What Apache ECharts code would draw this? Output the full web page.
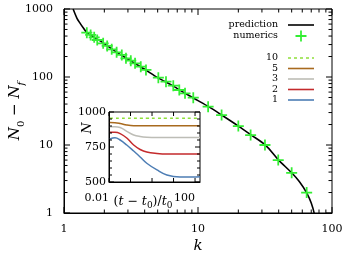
<!DOCTYPE html>
<html>
<head>
<meta charset="utf-8">
<title>N0 - Nf</title>
<script src="https://cdn.jsdelivr.net/npm/echarts@6/dist/echarts.min.js"></script>
<style>
  html, body { margin: 0; padding: 0; background: #fff; }
  #chart { width: 347px; height: 255px; }
</style>
</head>
<body>
<div id="chart"></div>
<script>
  // main panel: prediction curve and numerics
  var predK = [1.17, 1.25, 1.32, 1.4, 1.48, 1.7, 2, 2.5, 3, 4, 5, 6.5, 8, 10, 12, 15, 20, 25, 32, 40, 50, 57, 65, 70, 74, 78]
  var predN = [1000, 730, 615, 520, 450, 380, 310, 228, 183, 130, 98, 74, 57.6, 45, 36.6, 27.6, 19, 14, 9.9, 6.0, 3.9, 2.9, 1.95, 1.4, 0.95, 0.5]
  var numK = [1.48, 1.58, 1.68, 1.77, 1.96, 2.1, 2.27, 2.47, 2.7, 2.9, 3.15, 3.39, 3.74, 4.09, 5.06, 5.77, 6.54, 7.25, 8.0, 9.22, 11.9, 15.0, 20.0, 24.7, 31.6, 39.7, 50.0, 64.7]
  var numN = [448, 415, 384, 350, 313, 286, 255, 231, 211, 188, 174, 159, 142, 127, 97.7, 85.3, 74.5, 64.4, 57.6, 49.6, 36.6, 27.6, 19.0, 14.0, 10.0, 6.0, 3.9, 2.0]

  // inset: N against (t - t0)/t0 for the five cases
  var insetT = [0.011, 0.019, 0.033, 0.067, 0.14, 0.28, 0.57, 1.7, 4.9, 20, 80, 170]
  var insetN10 = [956, 956, 956, 956, 956, 956, 956, 956, 956, 956, 956, 956]
  var insetN5 = [925, 924, 918, 907, 902, 902, 902, 902, 902, 902, 902, 902]
  var insetN3 = [895, 895, 889, 862, 836, 825, 820, 818, 818, 818, 818, 818]
  var insetN2 = [855, 855, 846, 814, 764, 732, 714, 704, 700, 700, 700, 700]
  var insetN1 = [807, 816, 800, 764, 721, 679, 634, 586, 550, 536, 536, 538]
  var insetNames = ['10', '5', '3', '2', '1']
  var insetColors = ['#8ee03a', '#a86a1e', '#bdbdb6', '#c42a2c', '#4d7db4']

  // axis ranges and tick positions
  var kRange = [1, 100]
  var nRange = [1, 1000]
  var kMajor = [1, 10, 100]
  var nMajor = [1, 10, 100, 1000]
  var kMinor = [2, 3, 4, 5, 6, 7, 8, 9, 20, 30, 40, 50, 60, 70, 80, 90]
  var nMinor = [2, 3, 4, 5, 6, 7, 8, 9, 20, 30, 40, 50, 60, 70, 80, 90, 200, 300, 400, 500, 600, 700, 800, 900]
  var tRange = [0.01, 170]
  var tMajor = [0.01, 0.1, 1, 10, 100]
  var tLabels = [0.01, 100]
  var insetNRange = [500, 1000]
  var insetNMajor = [500, 750, 1000]
  var insetNMinor = [550, 600, 650, 700, 800, 850, 900, 950]

  var serif = 'DejaVu Serif'
  var lineIcon = 'path://M0,0H26V1.6H0Z'
  var dashIcon = 'path://M0,0H3V1.6H0ZM6,0H9V1.6H6ZM12,0H15V1.6H12ZM18,0H21V1.6H18ZM24,0H26V1.6H24Z'
  var crossIcon = 'path://M4.2,0H5.8V4.2H10V5.8H5.8V10H4.2V5.8H0V4.2H4.2Z'

  function pairs(xs, ys) {
    return xs.map(function (x, i) { return [x, ys[i]] })
  }

  // inward ticks on both opposite sides of a panel, placed through the axes
  function ticks(values, vertical, len, axisIdx, xr, yr) {
    return {
      type: 'custom',
      xAxisIndex: axisIdx,
      yAxisIndex: axisIdx,
      silent: true,
      clip: false,
      z: 5,
      data: values.map(function (v) { return vertical ? [xr[0], v] : [v, yr[0]] }),
      renderItem: function (params, api) {
        var a, b, shapes
        if (vertical) {
          a = api.coord([xr[0], api.value(1)])
          b = api.coord([xr[1], api.value(1)])
          shapes = [
            { x1: a[0], y1: a[1], x2: a[0] + len, y2: a[1] },
            { x1: b[0], y1: b[1], x2: b[0] - len, y2: b[1] }
          ]
        } else {
          a = api.coord([api.value(0), yr[0]])
          b = api.coord([api.value(0), yr[1]])
          shapes = [
            { x1: a[0], y1: a[1], x2: a[0], y2: a[1] - len },
            { x1: b[0], y1: b[1], x2: b[0], y2: b[1] + len }
          ]
        }
        return {
          type: 'group',
          children: shapes.map(function (s) {
            return { type: 'line', shape: s, style: { stroke: '#000', lineWidth: 1 } }
          })
        }
      }
    }
  }

  function axisLine() { return { show: true, lineStyle: { color: '#000', width: 1 } } }
  var labelStyle = { color: '#000', fontFamily: serif, fontSize: 11 }
  function plain(v) { return String(v) }

  var insetSeries = [insetN10, insetN5, insetN3, insetN2, insetN1].map(function (vals, i) {
    return {
      name: insetNames[i],
      type: 'line',
      xAxisIndex: 1,
      yAxisIndex: 1,
      data: pairs(insetT, vals),
      smooth: 0.4,
      showSymbol: false,
      symbol: 'none',
      lineStyle: { color: insetColors[i], width: 1.5, type: i === 0 ? [3, 3] : 'solid' },
      itemStyle: { color: insetColors[i] },
      z: 3
    }
  })

  var chart = echarts.init(document.getElementById('chart'))
  chart.setOption({
    animation: false,
    backgroundColor: '#fff',
    grid: [
      { left: 64, top: 9, width: 268, height: 204, show: true, borderColor: '#000', borderWidth: 1, outerBoundsMode: 'none' },
      { left: 109, top: 112, width: 91, height: 70, show: true, borderColor: '#000', borderWidth: 1, outerBoundsMode: 'none' }
    ],
    legend: [
      {
        data: [{ name: 'prediction', icon: lineIcon }, { name: 'numerics', icon: crossIcon }],
        orient: 'vertical',
        align: 'right',
        right: 33,
        top: 19.5,
        padding: 0,
        itemWidth: 26,
        itemHeight: 11,
        itemGap: 0,
        selectedMode: false,
        textStyle: { fontFamily: serif, fontSize: 9.5, color: '#000', lineHeight: 11, padding: [0, 5, 0, 0] }
      },
      {
        data: insetNames.map(function (n, i) { return { name: n, icon: i === 0 ? dashIcon : lineIcon } }),
        orient: 'vertical',
        align: 'right',
        right: 33,
        top: 53,
        padding: 0,
        itemWidth: 26,
        itemHeight: 8,
        itemGap: 0.5,
        selectedMode: false,
        textStyle: { fontFamily: serif, fontSize: 9.5, color: '#000', lineHeight: 10, padding: [0, 5, 0, 0] }
      }
    ],
    xAxis: [
      {
        type: 'log', gridIndex: 0, position: 'bottom', min: kRange[0], max: kRange[1],
        axisLine: axisLine(),
        axisTick: { show: false },
        axisLabel: Object.assign({ margin: 11, formatter: plain }, labelStyle),
        splitLine: { show: false },
        name: 'k', nameLocation: 'middle', nameGap: 26, nameMoveOverlap: false,
        nameTextStyle: { fontFamily: serif, fontStyle: 'italic', fontSize: 15, color: '#000' }
      },
      {
        type: 'log', gridIndex: 1, position: 'bottom', min: tRange[0], max: tRange[1],
        axisLine: axisLine(),
        axisTick: { show: false },
        axisLabel: Object.assign({
          margin: 11,
          align: 'right',
          formatter: function (v) {
            for (var i = 0; i < tLabels.length; i++) {
              if (Math.abs(v - tLabels[i]) < tLabels[i] * 1e-6) return String(tLabels[i])
            }
            return ''
          }
        }, labelStyle),
        splitLine: { show: false },
        name: '({i|t} − {i|t}{s|0})/{i|t}{s|0}',
        nameLocation: 'middle', nameGap: 11, nameMoveOverlap: false,
        nameTextStyle: {
          fontFamily: serif, fontSize: 12.5, color: '#000', padding: [0, 23, 0, 0],
          rich: {
            i: { fontFamily: serif, fontStyle: 'italic', fontSize: 12.5 },
            s: { fontFamily: serif, fontSize: 9, verticalAlign: 'bottom', lineHeight: 17 }
          }
        }
      }
    ],
    yAxis: [
      {
        type: 'log', gridIndex: 0, position: 'left', min: nRange[0], max: nRange[1],
        axisLine: axisLine(),
        axisTick: { show: false },
        axisLabel: Object.assign({ margin: 11, formatter: plain }, labelStyle),
        splitLine: { show: false },
        name: '{i|N}{s|0} − {i|N}{f|f}',
        nameLocation: 'middle', nameGap: 38, nameMoveOverlap: false,
        nameTextStyle: {
          fontFamily: serif, fontSize: 15, color: '#000',
          rich: {
            i: { fontFamily: serif, fontStyle: 'italic', fontSize: 15 },
            s: { fontFamily: serif, fontSize: 10, verticalAlign: 'bottom', lineHeight: 21 },
            f: { fontFamily: serif, fontStyle: 'italic', fontSize: 10, verticalAlign: 'bottom', lineHeight: 21 }
          }
        }
      },
      {
        type: 'value', gridIndex: 1, position: 'left', min: insetNRange[0], max: insetNRange[1], interval: 250,
        axisLine: axisLine(),
        axisTick: { show: false },
        axisLabel: Object.assign({ margin: 3, formatter: plain }, labelStyle),
        splitLine: { show: false },
        name: 'N', nameLocation: 'middle', nameGap: 15, nameMoveOverlap: false,
        nameTextStyle: { fontFamily: serif, fontStyle: 'italic', fontSize: 13, color: '#000', padding: [0, 0, 0, 38] }
      }
    ],
    series: [
      ticks(kMajor, false, 6, 0, kRange, nRange),
      ticks(kMinor, false, 3.5, 0, kRange, nRange),
      ticks(nMajor, true, 6, 0, kRange, nRange),
      ticks(nMinor, true, 3.5, 0, kRange, nRange),
      ticks(tMajor, false, 4, 1, tRange, insetNRange),
      ticks(insetNMajor, true, 5, 1, tRange, insetNRange),
      ticks(insetNMinor, true, 3, 1, tRange, insetNRange),
      {
        name: 'prediction',
        type: 'line',
        xAxisIndex: 0,
        yAxisIndex: 0,
        data: pairs(predK, predN),
        smooth: 0.3,
        showSymbol: false,
        symbol: 'none',
        lineStyle: { color: '#000', width: 1.6 },
        itemStyle: { color: '#000' },
        z: 3
      },
      {
        name: 'numerics',
        type: 'scatter',
        xAxisIndex: 0,
        yAxisIndex: 0,
        data: pairs(numK, numN),
        symbol: crossIcon,
        symbolSize: 11,
        itemStyle: { color: '#33ee33', opacity: 1 },
        z: 4
      }
    ].concat(insetSeries)
  })

  window.addEventListener('resize', function () {
    chart.resize()
  })
</script>
</body>
</html>
